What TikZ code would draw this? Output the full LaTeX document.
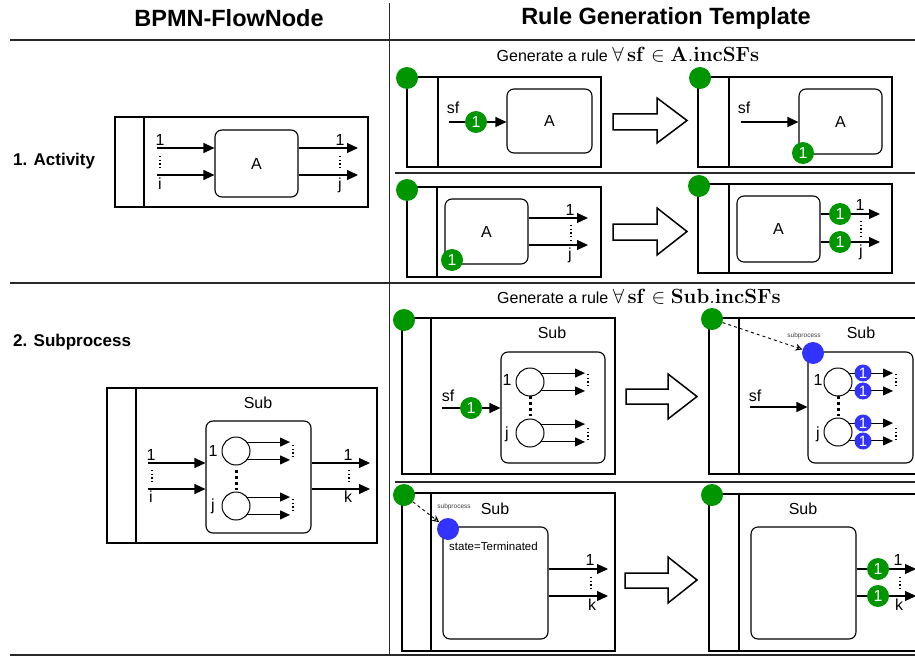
\RequirePackage{fix-cm}
\documentclass[tikz,border=0pt]{standalone}
\usepackage[no-math]{fontspec}
\setmainfont{Liberation Sans}
\usetikzlibrary{arrows.meta,fit}
\definecolor{tokgreen}{RGB}{0,150,0}
\definecolor{tokblue}{RGB}{51,51,255}
\definecolor{rulegray}{RGB}{40,40,40}
\newcommand\dotcol[3]{\draw[dotline] (#1,#2) -- (#1,#3);}
\newcommand\hollowarrow[7]{\draw[bigarrow] (#1,#4) -- (#2,#4) -- (#2,#6) -- (#3,{(#6+#7)/2}) -- (#2,#7) -- (#2,#5) -- (#1,#5) -- cycle;}
\newcommand\rulemath[1]{{\fontsize{20.5}{20.5}\selectfont$\forall\,\mathbf{sf}\in\mathbf{#1.incSFs}$}}
\tikzset{
  pool/.style={draw, line width=2.4pt, inner sep=0pt},
  lane/.style={line width=2pt},
  task/.style={draw, line width=1.1pt, rounded corners=7pt, inner sep=0pt, font=\fontsize{16}{16}\selectfont},
  evt/.style={circle, draw, line width=1pt, minimum size=28pt, inner sep=0pt},
  flow/.style={line width=1.1pt, -{Triangle[length=11pt,width=10pt]}},
  sflow/.style={line width=1.1pt, -{Triangle[length=10pt,width=9pt]}},
  lbl/.style={font=\fontsize{16}{16}\selectfont, inner sep=0pt},
  tokG/.style={circle, fill=tokgreen, minimum size=22pt, inner sep=0pt, text=white, font=\fontsize{16}{16}\selectfont},
  tokB/.style={circle, fill=tokblue, minimum size=17pt, inner sep=0pt, text=white, font=\fontsize{15}{15}\selectfont},
  spdot/.style={circle, fill=tokblue, minimum size=22pt, inner sep=0pt},
  bigarrow/.style={draw, line width=1.5pt, fill=white, line join=miter},
  dotline/.style={line width=1.1pt, dash pattern=on 1.1pt off 2.6pt},
  thickdash/.style={line width=3pt, dash pattern=on 3pt off 3pt},
  ptr/.style={dashed, line width=0.9pt, -{Stealth[open,length=7pt,width=7pt]}},
  tiny/.style={font=\fontsize{6.5}{6.5}\selectfont, text=black!75, inner sep=0pt},
  sep/.style={draw=rulegray, line width=1.8pt},
  septhin/.style={draw=rulegray, line width=1.3pt},
  head/.style={font=\bfseries\fontsize{23.5}{23.5}\selectfont, inner sep=0pt},
  rowlbl/.style={font=\bfseries\fontsize{17}{17}\selectfont, inner sep=0pt, anchor=west},
  gen/.style={font=\fontsize{16}{16}\selectfont, inner sep=0pt}
}
\begin{document}
\begin{tikzpicture}[x=1pt,y=-1pt]
\useasboundingbox (0,0) rectangle (915,658);
\clip (0,0) rectangle (915,658);
\fill[white] (0,0) rectangle (915,658);

% ---------- table rules ----------
\draw[septhin, line width=1pt] (389,3) -- (389,656);
\draw[sep] (10,40) -- (915,40);
\draw[sep] (10,283) -- (915,283);
\draw[sep] (10,655) -- (915,655);
\draw[septhin] (395,173) -- (915,173);
\draw[septhin] (395,482) -- (915,482);

\node[head] (h1) at (229,18.5) {BPMN-FlowNode};
\node[head] (h2) at (666,18.5) {Rule Generation Template};
\node[rowlbl] (r1) at (13,161) {1. Activity};
\node[rowlbl] (r2) at (13,342) {2. Subprocess};
\node[gen] (g1) at (628,55) {Generate a rule \rulemath{A}};
\node[gen] (g2) at (639,297) {Generate a rule \rulemath{Sub}};

% ---------- Activity flow node ----------
\node[pool, fit={(115,117)(368,207)}] (P1) {};
\draw[lane] (144,117) -- (144,207);
\node[task, fit={(215,130)(298,197)}] (A1) {};
\node[lbl] (A1t) at (A1.center) {A};
\coordinate (i1a) at (157,148);
\coordinate (i1b) at (157,175);
\coordinate (o1) at (358,0);
\draw[flow] (i1a) -- (i1a -| A1.west);
\draw[flow] (i1b) -- (i1b -| A1.west);
\draw[flow] (A1.east |- i1a) -- (i1a -| o1);
\draw[flow] (A1.east |- i1b) -- (i1b -| o1);
\node[lbl, anchor=south] (l1a) at (160,146) {1};
\node[lbl, anchor=north] (l1b) at (160,178) {i};
\node[lbl, anchor=south] (l1c) at (340,146) {1};
\node[lbl, anchor=north] (l1d) at (340,178) {j};
\dotcol{160}{156}{170}
\dotcol{340}{156}{170}

% ---------- Activity template, row 1 left ----------
\node[pool, fit={(407,77)(601,167)}] (P2) {};
\draw[lane] (438,77) -- (438,167);
\node[task, fit={(507,89)(592,153)}] (A2) {};
\node[lbl] (A2t) at (A2.center) {A};
\node[lbl] (sf2) at (453,108) {sf};
\coordinate (i2) at (449,122);
\draw[flow] (i2) -- (i2 -| A2.west);
\node[tokG] (t2) at (476,122) {1};
\node[tokG] (G1) at (407,78) {};
\hollowarrow{613}{657}{687}{114}{130}{98}{143}

% ---------- row 1 right ----------
\node[pool, fit={(698,77)(892,167)}] (P3) {};
\draw[lane] (729,77) -- (729,167);
\node[task, fit={(799,89)(882,154)}] (A3) {};
\node[lbl] (A3t) at (A3.center) {A};
\node[lbl] (sf3) at (744,108) {sf};
\coordinate (i3) at (741,122);
\draw[flow] (i3) -- (i3 -| A3.west);
\node[tokG] (t3) at (803,153) {1};
\node[tokG] (G2) at (700,78) {};

% ---------- row 2 left ----------
\node[pool, fit={(407,187)(601,277)}] (P4) {};
\draw[lane] (437,187) -- (437,277);
\node[task, fit={(445,199)(528,264)}] (A4) {};
\node[lbl] (A4t) at (A4.center) {A};
\coordinate (o4) at (588,0);
\coordinate (y4a) at (0,218);
\coordinate (y4b) at (0,245);
\draw[flow] (A4.east |- y4a) -- (o4 |- y4a);
\draw[flow] (A4.east |- y4b) -- (o4 |- y4b);
\node[lbl, anchor=south] (l4a) at (570,216) {1};
\node[lbl, anchor=north] (l4b) at (570,248) {j};
\dotcol{571}{225}{240}
\node[tokG] (t4) at (452,260) {1};
\node[tokG] (G3) at (407,190) {};
\hollowarrow{613}{657}{687}{224}{240}{208}{255}

% ---------- row 2 right ----------
\node[pool, fit={(698,184)(892,273)}] (P5) {};
\draw[lane] (729,184) -- (729,273);
\node[task, fit={(737,196)(820,262)}] (A5) {};
\node[lbl] (A5t) at (A5.center) {A};
\coordinate (o5) at (880,0);
\coordinate (y5a) at (0,214);
\coordinate (y5b) at (0,242);
\draw[flow] (A5.east |- y5a) -- (o5 |- y5a);
\draw[flow] (A5.east |- y5b) -- (o5 |- y5b);
\node[tokG] (t5a) at (840,214) {1};
\node[tokG] (t5b) at (840,242) {1};
\node[lbl, anchor=south] (l5a) at (860,211) {1};
\node[lbl, anchor=north] (l5b) at (861,245) {j};
\dotcol{861}{221}{236}
\node[tokG] (G4) at (699,186) {};

% ---------- Subprocess flow node ----------
\node[pool, fit={(107,388)(377,543)}] (P6) {};
\draw[lane] (136,388) -- (136,543);
\node[lbl] (sub6) at (258,403) {Sub};
\node[task, fit={(206,421)(311,533)}] (S6) {};
\node[evt] (C6a) at (236,451) {};
\node[evt] (C6b) at (236,506) {};
\node[lbl] (n6a) at (213,451) {1};
\node[lbl] (n6b) at (213,506) {j};
\draw[thickdash] (236,470) -- (236,490);
\coordinate (e6) at (290,0);
\foreach \n in {C6a,C6b} {
  \draw[sflow] (\n.38) -- (\n.38 -| e6);
  \draw[sflow] (\n.-38) -- (\n.-38 -| e6);
}
\dotcol{293}{445}{457}
\dotcol{293}{499}{511}
\coordinate (i6a) at (148,463);
\coordinate (i6b) at (148,489);
\coordinate (o6) at (370,0);
\draw[flow] (i6a) -- (i6a -| S6.west);
\draw[flow] (i6b) -- (i6b -| S6.west);
\draw[flow] (S6.east |- i6a) -- (i6a -| o6);
\draw[flow] (S6.east |- i6b) -- (i6b -| o6);
\node[lbl, anchor=south] (l6a) at (151,461) {1};
\node[lbl, anchor=north] (l6b) at (151,491) {i};
\node[lbl, anchor=south] (l6c) at (348,461) {1};
\node[lbl, anchor=north] (l6d) at (348,491) {k};
\dotcol{152}{470}{482}
\dotcol{349}{470}{482}

% ---------- Subprocess template, row 3 left ----------
\node[pool, fit={(402,318)(615,474)}] (P7) {};
\draw[lane] (431,318) -- (431,474);
\node[lbl] (sub7) at (552,333) {Sub};
\node[task, fit={(501,352)(605,463)}] (S7) {};
\node[evt] (C7a) at (530,382) {};
\node[evt] (C7b) at (530,433) {};
\node[lbl] (n7a) at (507,380) {1};
\node[lbl] (n7b) at (507,434) {j};
\draw[thickdash] (530,396) -- (530,416);
\coordinate (e7) at (585,0);
\foreach \n in {C7a,C7b} {
  \draw[sflow] (\n.38) -- (\n.38 -| e7);
  \draw[sflow] (\n.-38) -- (\n.-38 -| e7);
}
\dotcol{588}{374}{386}
\dotcol{588}{428}{440}
\node[lbl] (sf7) at (448,396) {sf};
\coordinate (i7) at (442,408);
\draw[flow] (i7) -- (i7 -| S7.west);
\node[tokG] (t7) at (471,408) {1};
\node[tokG] (G5) at (404,320) {};
\hollowarrow{626}{668}{697}{389}{404}{374}{419}

% ---------- row 3 right ----------
\node[pool, fit={(709,318)(930,474)}] (P8) {};
\draw[lane] (739,318) -- (739,474);
\node[lbl] (sub8) at (861,333) {Sub};
\node[task, fit={(808,352)(913,463)}] (S8) {};
\node[evt] (C8a) at (838,382) {};
\node[evt] (C8b) at (838,432) {};
\node[lbl] (n8a) at (818,380) {1};
\node[lbl] (n8b) at (818,434) {j};
\draw[thickdash] (838,396) -- (838,416);
\coordinate (e8) at (893,0);
\foreach \n in {C8a,C8b} {
  \draw[sflow] (\n.38) -- (\n.38 -| e8);
  \draw[sflow] (\n.-38) -- (\n.-38 -| e8);
}
\node[tokB] (b8a) at (863,373) {1};
\node[tokB] (b8b) at (863,391) {1};
\node[tokB] (b8c) at (863,423) {1};
\node[tokB] (b8d) at (863,441) {1};
\dotcol{896}{374}{386}
\dotcol{896}{428}{440}
\node[lbl] (sf8) at (755,396) {sf};
\coordinate (i8) at (750,407);
\draw[flow] (i8) -- (i8 -| S8.west);
\node[spdot] (B1) at (813,353) {};
\node[tokG] (G6) at (712,319) {};
\draw[ptr] (G6) -- (B1);
\node[tiny] (sp1) at (804,336) {subprocess};

% ---------- row 4 left ----------
\node[pool, fit={(402,493)(615,651)}] (P9) {};
\draw[lane] (431,493) -- (431,651);
\node[lbl] (sub9) at (495,509) {Sub};
\node[task, fit={(443,527)(548,639)}] (S9) {};
\node[font=\fontsize{11.5}{11.5}\selectfont, inner sep=0pt, anchor=west] (st9) at (449,546) {state=Terminated};
\coordinate (o9) at (608,0);
\coordinate (y9a) at (0,569);
\coordinate (y9b) at (0,596);
\draw[flow] (S9.east |- y9a) -- (o9 |- y9a);
\draw[flow] (S9.east |- y9b) -- (o9 |- y9b);
\node[lbl, anchor=south] (l9a) at (590,566) {1};
\node[lbl, anchor=north] (l9b) at (592,599) {k};
\dotcol{591}{577}{591}
\node[spdot] (B2) at (448,529) {};
\node[tokG] (G7) at (404,495) {};
\draw[ptr] (G7) -- (B2);
\node[tiny] (sp2) at (454,507) {subprocess};
\hollowarrow{625}{668}{697}{573}{588}{557}{603}

% ---------- row 4 right ----------
\node[pool, fit={(709,494)(930,651)}] (P10) {};
\draw[lane] (739,494) -- (739,651);
\node[lbl] (sub10) at (803,509) {Sub};
\node[task, fit={(751,527)(856,639)}] (S10) {};
\coordinate (o10) at (916,0);
\coordinate (y10a) at (0,569);
\coordinate (y10b) at (0,596);
\draw[flow] (S10.east |- y10a) -- (o10 |- y10a);
\draw[flow] (S10.east |- y10b) -- (o10 |- y10b);
\node[tokG] (t10a) at (878,569) {1};
\node[tokG] (t10b) at (878,596) {1};
\node[lbl, anchor=south] (l10a) at (898,566) {1};
\node[lbl, anchor=north] (l10b) at (899,599) {k};
\dotcol{900}{577}{591}
\node[tokG] (G8) at (712,495) {};
\end{tikzpicture}
\end{document}
